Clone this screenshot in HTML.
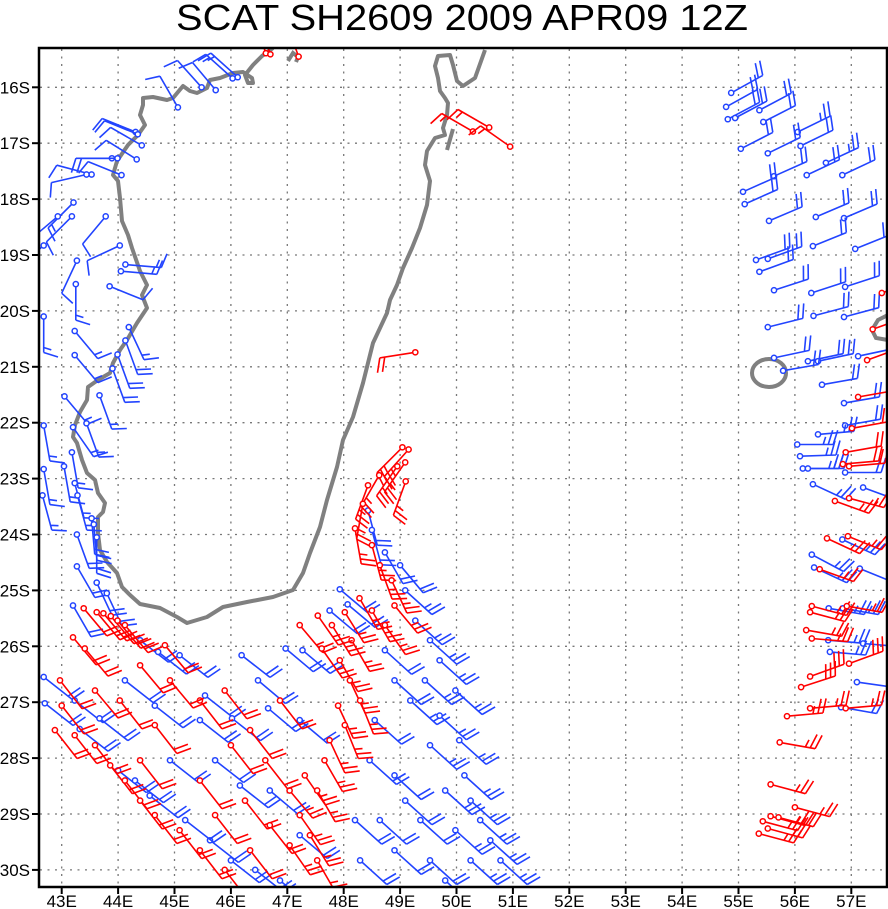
<!DOCTYPE html>
<html><head><meta charset="utf-8"><title>SCAT SH2609</title>
<style>html,body{margin:0;padding:0;background:#fff;}svg{display:block;}</style></head>
<body>
<svg id="chart" width="888" height="909" viewBox="0 0 888 909" xmlns="http://www.w3.org/2000/svg">
<text x="462" y="30" text-anchor="middle" font-family="Liberation Sans, sans-serif" font-size="36" textLength="572" lengthAdjust="spacingAndGlyphs" fill="#000">SCAT SH2609 2009 APR09 12Z</text>
<defs><clipPath id="plotclip"><rect x="40" y="49" width="846" height="837"/></clipPath></defs>
<g id="grid"></g>
<g clip-path="url(#plotclip)">
<path fill="none" stroke="#808080" stroke-width="4" stroke-linejoin="round"
 d="M273,48 L262,56 L253,65 L245,75 L248,83 L253,83 L252,78 L243,72 L233,73 L220,78 L210,80 L207,88 L197,93 L190,91 L183,86 L173,98 L167,100 L153,97 L143,98 L143,105 L140,115 L145,125 L138,135 L128,145 L117,161 L113,175 L118,181 L120,198 L122,221 L128,235 L132,248 L140,271 L147,285 L142,295 L147,308 L137,323 L127,340 L120,350 L113,363 L110,373 L98,380 L88,387 L87,400 L80,412 L75,425 L73,437 L77,443 L82,460 L87,473 L95,480 L98,493 L105,503 L103,512 L98,517 L98,533 L100,550 L107,562 L117,573 L122,587 L130,595 L140,604 L160,608 L177,617 L187,623 L207,617 L223,607 L247,602 L273,597 L293,590 L303,573 L310,553 L320,527 L327,500 L337,467 L343,440 L353,417 L363,383 L373,343 L387,313 L390,300 L397,285 L403,268 L412,248 L420,228 L427,205 L430,181 L425,165 L427,151 L435,138 L445,135 L443,128 L447,115 L448,103 L445,98 L440,91 L438,78 L435,66 L438,56 L450,55 L453,65 L457,81 L463,86 L475,78 L485,50"/>
<path fill="none" stroke="#808080" stroke-width="4" d="M288,61 L293,53 L298,57 L296,62"/>
<path fill="none" stroke="#808080" stroke-width="4" d="M453,129 L447,150"/>
<ellipse cx="769" cy="373" rx="17" ry="14" fill="none" stroke="#808080" stroke-width="4"/>
<path fill="none" stroke="#808080" stroke-width="4" d="M888,315 L878,320 L872,330 L876,338 L888,340"/>
<g id="barbs"></g>
</g>
<rect x="39" y="48" width="848" height="839" fill="none" stroke="#000" stroke-width="2.5"/>
<g id="axes"></g>
</svg>
<script>
const lonTicks = [43,44,45,46,47,48,49,50,51,52,53,54,55,56,57];
const latTicks = [16,17,18,19,20,21,22,23,24,25,26,27,28,29,30];
// [lon, lat(S), direction-from deg, speed kt]
const blueLon = [45.06,45.48,45.73,46.03,46.12,44.31,44.35,44.42,44.33,43.89,43.99,43.53,44.06,43.44,43.21,42.93,43.18,42.68,43.78,44.03,43.27,44.13,44.05,43.25,43.85,42.68,43.23,44.19,44.13,43.23,43.99,43.9,43.05,43.67,42.68,43.2,43.44,43.18,42.68,43.04,43.23,42.66,43.28,43.53,43.57,43.62,43.27,43.27,43.62,43.8,43.2,
54.87,54.78,54.81,54.94,55.37,55.44,55.04,56.05,55.52,56.1,56.55,56.21,56.84,55.63,55.08,55.11,55.54,56.37,56.87,56.32,57.07,55.31,55.52,55.37,55.63,56.29,56.89,55.52,56.33,56.87,55.63,56.23,56.41,57.12,55.79,56.48,
56.87,56.89,56.41,56.04,56.09,56.14,56.23,56.89,56.32,57.21,56.84,56.3,56.34,57.15,56.6,56.85,56.59,57.21,56.62,57.1,56.82,
48.43,48.5,48.73,49.0,47.93,48.07,
44.39,44.71,45.09,46.19,46.97,47.27,47.75,42.68,43.23,43.67,44.12,44.65,45.54,46.02,46.48,46.66,47.22,42.7,43.32,44.0,44.3,44.56,44.92,45.45,45.72,46.16,46.69,47.22,45.63,45.19,46.0,46.43,46.87,
49.09,49.27,49.53,49.7,49.44,49.98,49.18,49.7,50.05,49.53,50.14,49.8,50.25,50.42,49.98,50.6,50.25,50.78,48.73,48.9,48.55,48.46,48.9,49.09,48.64,49.36,48.9,49.53,48.2,48.29,49.8];
const blueLat = [16.36,16.0,16.05,15.84,15.82,16.8,16.84,17.04,17.29,17.27,17.27,17.56,17.57,17.56,18.06,18.31,18.31,18.83,18.31,18.83,19.1,19.17,19.29,19.52,19.56,20.1,20.36,20.29,20.53,20.79,20.78,21.03,21.53,21.51,22.05,22.08,22.01,22.53,22.83,22.78,23.08,23.3,23.3,23.71,23.82,24.05,24.0,24.57,24.86,25.05,25.27,
16.1,16.35,16.57,16.55,16.41,16.62,17.1,16.8,17.18,17.05,17.35,17.57,17.57,17.59,17.87,18.09,18.39,18.32,18.34,18.84,18.89,19.09,19.07,19.3,19.63,19.68,19.57,20.29,20.09,20.11,20.84,20.9,20.9,20.81,21.07,21.32,
21.65,22.05,22.21,22.39,22.6,22.82,22.82,22.89,23.1,23.16,24.09,24.36,24.59,24.61,25.32,25.32,25.89,25.95,26.1,26.64,27.09,
23.57,23.92,24.32,24.55,24.98,25.25,
25.89,26.1,26.16,26.16,26.04,26.07,25.36,26.55,26.97,27.29,26.61,27.06,26.88,27.29,26.61,27.11,27.32,27.02,27.48,28.22,28.4,28.67,28.04,27.32,28.04,28.49,28.58,29.38,29.47,29.11,29.83,30.0,30.19,
25.0,25.54,25.89,26.25,26.61,26.79,26.97,27.24,27.68,27.77,28.31,28.58,28.76,29.11,29.29,29.47,29.83,29.83,26.07,26.61,27.32,28.04,28.31,28.76,29.11,29.11,29.65,29.83,29.11,29.83,30.19];
const blueDir = [330,318,320,312,312,292,292,300,302,270,270,285,292,257,225,230,225,230,220,245,205,95,95,180,112,180,140,155,160,140,160,160,140,160,170,145,160,170,170,170,165,165,165,175,175,180,160,150,155,155,150,
61,61,62,62,62,63,63,64,64,64,65,65,65,66,66,66,67,67,67,68,68,70,70,70,72,72,72,76,75,75,78,78,78,78,80,80,
80,80,85,90,88,90,90,90,115,110,115,118,115,112,100,100,95,95,95,98,100,
165,165,150,140,130,130,
128,128,128,128,130,130,130,128,128,128,128,128,128,128,130,130,130,128,128,128,128,128,128,128,128,128,130,130,128,128,128,128,130,
132,132,132,132,132,132,132,132,132,132,132,132,132,132,132,132,132,132,132,132,132,132,132,132,132,132,132,132,132,132,132];
const blueSpd = [10,10,10,15,15,10,10,10,10,10,10,10,10,10,15,15,10,15,10,10,10,15,15,15,10,15,15,15,20,15,20,20,15,15,15,15,15,15,15,15,15,15,15,20,20,20,20,20,20,20,20,
20,20,20,20,20,20,20,25,20,20,25,20,20,20,20,20,20,20,20,20,20,20,20,20,20,20,20,20,20,20,20,20,20,20,20,20,
20,20,25,25,25,25,25,20,25,25,25,25,25,20,25,25,25,20,25,20,20,
20,20,20,20,20,20,
20,20,20,20,20,20,20,20,20,20,20,20,20,20,20,20,20,20,20,20,20,20,20,20,20,20,20,20,20,20,20,20,20,
25,25,25,25,25,25,25,25,25,25,25,25,25,25,25,25,25,25,20,20,20,20,20,20,20,20,20,20,20,20,20];

const redLon = [57.12,57.01,56.9,56.85,56.96,56.71,56.96,56.57,56.94,56.44,56.3,56.27,56.92,56.2,56.3,56.27,56.11,56.96,56.27,55.86,56.9,57.54,57.38,57.28,55.73,55.57,56.0,55.43,55.57,55.71,55.52,55.36,
49.27,50.29,50.58,50.95,46.62,46.7,47.2,
49.04,49.15,49.09,48.95,48.63,48.43,49.1,48.34,48.2,48.5,48.64,48.85,48.28,48.5,48.02,47.79,48.14,47.54,47.22,47.61,47.93,48.11,48.29,47.9,48.02,47.75,47.66,47.31,47.53,47.04,47.22,47.4,47.04,47.53,48.9,48.73,
43.39,43.62,43.74,43.87,43.99,44.12,43.2,43.41,42.97,43.0,43.23,43.59,43.86,44.12,44.39,44.65,45.09,45.45,45.89,44.03,44.65,44.39,44.83,45.45,45.89,46.34,46.87,46.61,46.25,46.69,45.45,45.72,46.34,43.59,42.88,44.92,44.39,46.0];
const redLat = [21.54,22.1,22.53,22.74,22.78,23.4,23.35,24.07,24.03,24.62,25.28,25.39,25.28,25.71,25.86,26.54,26.73,26.31,27.11,27.25,27.11,19.68,20.33,20.88,27.72,28.47,28.88,29.13,29.04,29.06,29.26,29.35,
20.74,16.79,16.72,17.06,15.39,15.41,15.45,
22.44,22.48,22.71,22.78,22.94,23.12,23.05,23.45,23.89,24.19,24.55,24.82,25.14,25.36,25.39,25.62,25.89,25.45,25.62,26.04,26.25,26.61,26.97,27.06,27.41,27.68,28.04,28.31,28.58,28.58,29.02,29.38,29.56,29.83,25.27,25.62,
25.32,25.39,25.41,25.46,25.54,25.62,25.84,26.04,26.61,27.06,27.59,27.77,28.13,28.4,28.76,29.02,29.29,29.65,30.0,26.97,27.41,28.04,25.98,26.97,26.79,27.5,26.97,28.04,28.76,29.2,28.4,29.02,29.65,26.79,27.5,26.61,26.34,27.77];
const redDir = [80,80,80,85,85,110,105,115,112,110,105,105,100,100,95,70,72,70,85,85,85,70,70,70,100,105,105,105,105,105,105,105,
261,300,300,305,340,340,340,
225,222,215,215,210,200,200,190,170,165,160,155,150,150,148,148,150,145,140,145,150,155,158,155,158,155,150,145,150,140,145,148,145,150,140,145,
140,140,140,140,140,140,140,140,142,142,142,142,142,142,142,142,142,142,142,142,142,142,140,142,142,142,142,142,142,142,142,142,142,140,142,140,140,142];
const redSpd = [20,20,20,20,20,25,25,25,25,25,25,25,25,25,25,30,30,30,25,25,25,20,20,20,25,25,25,25,25,25,25,25,
20,15,15,15,5,5,5,
25,25,25,25,25,25,25,25,25,25,25,25,25,25,25,25,25,25,25,25,25,25,25,25,25,25,25,25,25,25,25,25,25,25,25,25,
20,20,20,20,20,20,20,20,20,20,20,20,20,20,20,20,20,20,20,20,20,20,20,20,20,20,20,20,20,20,20,20,20,20,20,20,20,20];

const NS = 'http://www.w3.org/2000/svg';
function xScale(lon){ return 61.7 + (lon - 43) * 56.4; }
function yScale(lat){ return 87.3 + (lat - 16) * 55.9; }

const grid = document.getElementById('grid');
const axes = document.getElementById('axes');
lonTicks.forEach(function(lon){
  const x = xScale(lon);
  const gl = document.createElementNS(NS,'line');
  gl.setAttribute('x1',x); gl.setAttribute('x2',x); gl.setAttribute('y1',49); gl.setAttribute('y2',886);
  gl.setAttribute('stroke','#777'); gl.setAttribute('stroke-width','1.3'); gl.setAttribute('stroke-dasharray','2,5.5');
  
  
  grid.appendChild(gl);
  const tk = document.createElementNS(NS,'line');
  tk.setAttribute('x1',x); tk.setAttribute('x2',x); tk.setAttribute('y1',887); tk.setAttribute('y2',894);
  tk.setAttribute('stroke','#000'); tk.setAttribute('stroke-width','2');
  
  
  axes.appendChild(tk);
  const t = document.createElementNS(NS,'text');
  t.setAttribute('x',x); t.setAttribute('y',907); t.setAttribute('text-anchor','middle');
  t.setAttribute('font-family','Liberation Sans, sans-serif'); t.setAttribute('font-size','17');
  t.textContent = lon + 'E';
  
  
  axes.appendChild(t);
});
latTicks.forEach(function(lat){
  const y = yScale(lat);
  const gl = document.createElementNS(NS,'line');
  gl.setAttribute('x1',40); gl.setAttribute('x2',886); gl.setAttribute('y1',y); gl.setAttribute('y2',y);
  gl.setAttribute('stroke','#777'); gl.setAttribute('stroke-width','1.3'); gl.setAttribute('stroke-dasharray','2,5.5');
  
  
  grid.appendChild(gl);
  const tk = document.createElementNS(NS,'line');
  tk.setAttribute('x1',32); tk.setAttribute('x2',39); tk.setAttribute('y1',y); tk.setAttribute('y2',y);
  tk.setAttribute('stroke','#000'); tk.setAttribute('stroke-width','2');
  
  
  axes.appendChild(tk);
  const t = document.createElementNS(NS,'text');
  t.setAttribute('x',30); t.setAttribute('y',y+6); t.setAttribute('text-anchor','end');
  t.setAttribute('font-family','Liberation Sans, sans-serif'); t.setAttribute('font-size','17');
  t.textContent = lat + 'S';
  
  
  axes.appendChild(t);
});

const barbs = document.getElementById('barbs');
function drawBarb(lon, lat, dir, spd, color){
  const sx = xScale(lon), sy = yScale(lat);
  const r = dir * Math.PI / 180;
  const dx = Math.sin(r), dy = -Math.cos(r);
  const px = dy, py = -dx;
  const L = 36;
  const ex = sx + L*dx, ey = sy + L*dy;
  let d = 'M'+sx.toFixed(1)+','+sy.toFixed(1)+' L'+ex.toFixed(1)+','+ey.toFixed(1);
  let tx = px*0.95 + dx*0.3, ty = py*0.95 + dy*0.3;
  const n = Math.hypot(tx,ty); tx/=n; ty/=n;
  const full = Math.floor(spd/10), half = (spd % 10) >= 5;
  let i = 0;
  for (; i < full; i++){
    const bx = ex - i*5*dx, by = ey - i*5*dy;
    d += ' M'+bx.toFixed(1)+','+by.toFixed(1)+' L'+(bx+15*tx).toFixed(1)+','+(by+15*ty).toFixed(1);
  }
  if (half){
    const bx = ex - i*5*dx, by = ey - i*5*dy;
    d += ' M'+bx.toFixed(1)+','+by.toFixed(1)+' L'+(bx+8*tx).toFixed(1)+','+(by+8*ty).toFixed(1);
  }
  const g = document.createElementNS(NS,'g');
  
  
  const p = document.createElementNS(NS,'path');
  p.setAttribute('d', d); p.setAttribute('stroke', color); p.setAttribute('stroke-width','1.6'); p.setAttribute('fill','none');
  
  
  g.appendChild(p);
  const c = document.createElementNS(NS,'circle');
  c.setAttribute('cx', sx.toFixed(1)); c.setAttribute('cy', sy.toFixed(1)); c.setAttribute('r','2.6');
  c.setAttribute('fill','#fff'); c.setAttribute('stroke', color); c.setAttribute('stroke-width','1.5');
  
  
  g.appendChild(c);
  barbs.appendChild(g);
}
for (let i = 0; i < blueLon.length; i++) drawBarb(blueLon[i], blueLat[i], blueDir[i], blueSpd[i], '#2244ff');
for (let i = 0; i < redLon.length; i++) drawBarb(redLon[i], redLat[i], redDir[i], redSpd[i], '#ff0000');
</script>
</body></html>
